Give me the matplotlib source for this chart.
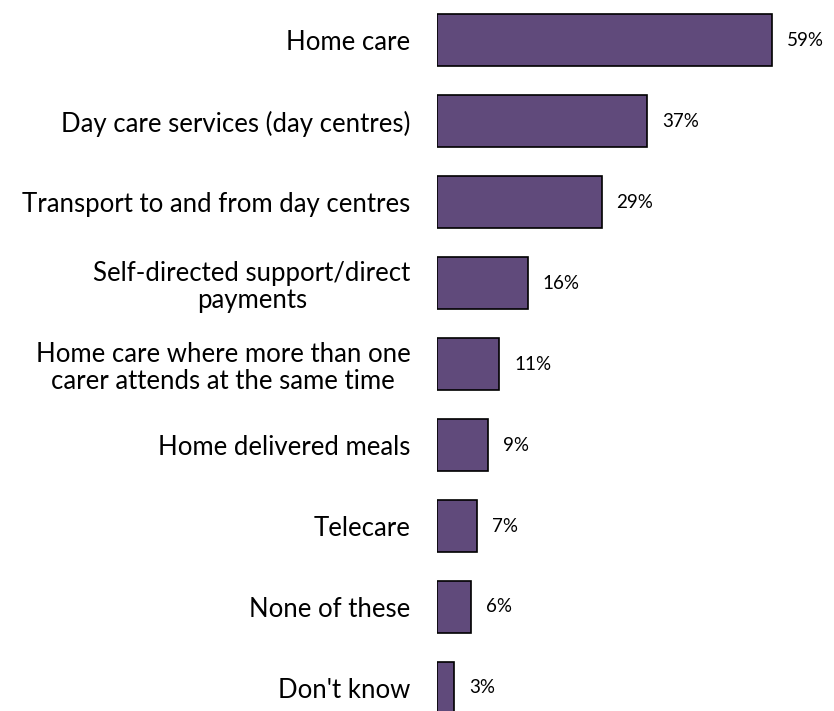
import matplotlib.pyplot as plt

categories = [
    "Home care",
    "Day care services (day centres)",
    "Transport to and from day centres",
    "Self-directed support/direct\npayments",
    "Home care where more than one\ncarer attends at the same time",
    "Home delivered meals",
    "Telecare",
    "None of these",
    "Don't know",
]
values = [59, 37, 29, 16, 11, 9, 7, 6, 3]

plt.rcParams['font.family'] = ['Lato', 'DejaVu Sans']

fig = plt.figure(figsize=(8.34, 7.11), dpi=100)
ax = fig.add_axes([437 / 834, 0, 397 / 834, 1])

pos = list(range(len(values)))
ax.barh(pos, values, height=0.64, color='#604A7B', edgecolor='black', linewidth=1.2)

for p, v in zip(pos, values):
    ax.text(v + 2.6, p, f"{v}%", va='center', ha='left', fontsize=13.5)

ax.set_xlim(0, 69.9)
ax.set_ylim(8.284, -0.494)
ax.set_yticks(pos)
ax.set_yticklabels(categories, fontsize=18.5, multialignment='center', linespacing=1.1)
ax.tick_params(axis='y', length=0, pad=19)
ax.set_xticks([])
for s in ax.spines.values():
    s.set_visible(False)

fig.savefig('out.png', dpi=100)
